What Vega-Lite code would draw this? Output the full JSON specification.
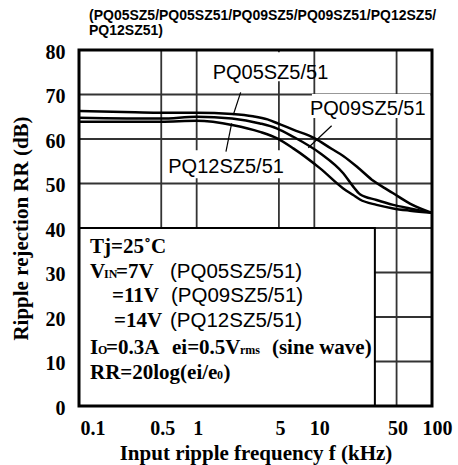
{
  "$schema": "https://vega.github.io/schema/vega-lite/v6.json",
  "width": 353,
  "height": 356,
  "autosize": "none",
  "padding": {"left": 79, "top": 50, "right": 26, "bottom": 59},
  "background": "white",
  "title": {
    "text": ["(PQ05SZ5/PQ05SZ51/PQ09SZ5/PQ09SZ51/PQ12SZ5/", "PQ12SZ51)"],
    "anchor": "start",
    "frame": "group",
    "dx": 10,
    "offset": 4,
    "font": "Liberation Sans",
    "fontSize": 14,
    "fontWeight": "bold",
    "lineHeight": 15,
    "color": "black"
  },
  "config": {
    "view": {"stroke": null},
    "axis": {
      "labelFont": "Liberation Serif",
      "labelFontWeight": "bold",
      "labelFontSize": 20,
      "labelColor": "black",
      "titleFont": "Liberation Serif",
      "titleFontWeight": "bold",
      "titleFontSize": 20,
      "titleColor": "black",
      "ticks": false,
      "domain": false,
      "grid": false,
      "labelOverlap": false
    }
  },
  "datasets": {
    "xGrid": [{"f": 0.5}, {"f": 1}, {"f": 5}, {"f": 10}, {"f": 50}],
    "yGrid": [{"db": 10}, {"db": 20}, {"db": 30}, {"db": 40}, {"db": 50}, {"db": 60}, {"db": 70}],
    "frame": [{"f": 0.1, "f2": 100, "db": 0, "db2": 80}],
    "labelBoxes": [
      {"f": 1.18, "f2": 9.0, "db": 73.0, "db2": 79.5},
      {"f": 9.54, "f2": 97, "db": 64.7, "db2": 70.1},
      {"f": 0.58, "f2": 6.2, "db": 51.2, "db2": 57.5}
    ],
    "condBox": [
      {"f": 0.1, "f2": 32.7, "db": 0, "db2": 40}
    ],
    "curves": [
      {"model": "PQ05SZ5/51", "f": 0.1, "db": 66.3},
      {"model": "PQ05SZ5/51", "f": 0.3, "db": 66.0},
      {"model": "PQ05SZ5/51", "f": 0.5, "db": 65.9},
      {"model": "PQ05SZ5/51", "f": 1, "db": 65.9},
      {"model": "PQ05SZ5/51", "f": 2, "db": 65.6},
      {"model": "PQ05SZ5/51", "f": 3, "db": 65.1},
      {"model": "PQ05SZ5/51", "f": 4, "db": 64.4},
      {"model": "PQ05SZ5/51", "f": 5, "db": 63.4},
      {"model": "PQ05SZ5/51", "f": 6.6, "db": 62.1},
      {"model": "PQ05SZ5/51", "f": 10, "db": 60.2},
      {"model": "PQ05SZ5/51", "f": 14, "db": 57.8},
      {"model": "PQ05SZ5/51", "f": 17.6, "db": 56.2},
      {"model": "PQ05SZ5/51", "f": 24.4, "db": 53.2},
      {"model": "PQ05SZ5/51", "f": 31.7, "db": 50.6},
      {"model": "PQ05SZ5/51", "f": 40, "db": 48.9},
      {"model": "PQ05SZ5/51", "f": 46.8, "db": 47.8},
      {"model": "PQ05SZ5/51", "f": 64.9, "db": 45.5},
      {"model": "PQ05SZ5/51", "f": 100, "db": 43.4},
      {"model": "PQ09SZ5/51", "f": 0.1, "db": 64.8},
      {"model": "PQ09SZ5/51", "f": 0.5, "db": 64.6},
      {"model": "PQ09SZ5/51", "f": 1, "db": 65.0},
      {"model": "PQ09SZ5/51", "f": 2, "db": 64.6},
      {"model": "PQ09SZ5/51", "f": 3.45, "db": 63.5},
      {"model": "PQ09SZ5/51", "f": 4.78, "db": 62.4},
      {"model": "PQ09SZ5/51", "f": 6.62, "db": 60.5},
      {"model": "PQ09SZ5/51", "f": 11.2, "db": 56.8},
      {"model": "PQ09SZ5/51", "f": 17.6, "db": 52.3},
      {"model": "PQ09SZ5/51", "f": 21.4, "db": 49.3},
      {"model": "PQ09SZ5/51", "f": 24.4, "db": 47.6},
      {"model": "PQ09SZ5/51", "f": 33.8, "db": 46.3},
      {"model": "PQ09SZ5/51", "f": 46.8, "db": 45.2},
      {"model": "PQ09SZ5/51", "f": 64.9, "db": 44.4},
      {"model": "PQ09SZ5/51", "f": 100, "db": 43.4},
      {"model": "PQ12SZ5/51", "f": 0.1, "db": 63.9},
      {"model": "PQ12SZ5/51", "f": 0.5, "db": 63.9},
      {"model": "PQ12SZ5/51", "f": 1, "db": 64.1},
      {"model": "PQ12SZ5/51", "f": 2.05, "db": 63.1},
      {"model": "PQ12SZ5/51", "f": 3.45, "db": 61.6},
      {"model": "PQ12SZ5/51", "f": 4.78, "db": 60.2},
      {"model": "PQ12SZ5/51", "f": 6.62, "db": 57.9},
      {"model": "PQ12SZ5/51", "f": 11.2, "db": 53.4},
      {"model": "PQ12SZ5/51", "f": 17.6, "db": 48.9},
      {"model": "PQ12SZ5/51", "f": 21.4, "db": 47.4},
      {"model": "PQ12SZ5/51", "f": 24.4, "db": 46.4},
      {"model": "PQ12SZ5/51", "f": 33.8, "db": 45.2},
      {"model": "PQ12SZ5/51", "f": 46.8, "db": 44.4},
      {"model": "PQ12SZ5/51", "f": 64.9, "db": 43.9},
      {"model": "PQ12SZ5/51", "f": 100, "db": 43.4}
    ],
    "leaders": [
      {"f": 2.365, "db": 70.49, "f2": 2.046, "db2": 65.39},
      {"f": 14.03, "db": 62.99, "f2": 8.88, "db2": 58.04},
      {"f": 1.983, "db": 63.53, "f2": 1.774, "db2": 57.15}
    ],
    "notes": [
      {"text": "PQ05SZ5/51", "f": 1.367, "db": 73.48, "style": "label"},
      {"text": "PQ09SZ5/51", "f": 9.176, "db": 65.39, "style": "label"},
      {"text": "PQ12SZ5/51", "f": 0.5738, "db": 52.29, "style": "label"},
      {"text": "Tj=25˚C", "f": 0.124, "db": 34.38, "style": "serif"},
      {"text": "V", "f": 0.124, "db": 28.83, "style": "serif"},
      {"text": "IN", "f": 0.1631, "db": 28.83, "style": "sub"},
      {"text": "=7V", "f": 0.2062, "db": 28.83, "style": "serif"},
      {"text": "(PQ05SZ5/51)", "f": 0.5931, "db": 28.83, "style": "sans"},
      {"text": "=11V", "f": 0.1907, "db": 23.44, "style": "serif"},
      {"text": "(PQ09SZ5/51)", "f": 0.6048, "db": 23.44, "style": "sans"},
      {"text": "=14V", "f": 0.1983, "db": 17.82, "style": "serif"},
      {"text": "(PQ12SZ5/51)", "f": 0.5931, "db": 17.82, "style": "sans"},
      {"text": "I", "f": 0.124, "db": 11.69, "style": "serif"},
      {"text": "O", "f": 0.14503, "db": 11.69, "style": "sub"},
      {"text": "=0.3A", "f": 0.1696, "db": 11.69, "style": "serif"},
      {"text": "ei=0.5V", "f": 0.6168, "db": 11.69, "style": "serif"},
      {"text": "rms", "f": 2.3327, "db": 11.69, "style": "sub"},
      {"text": "(sine wave)", "f": 4.3632, "db": 11.69, "style": "serif"},
      {"text": "RR=20log(ei/e", "f": 0.124, "db": 6.07, "style": "serif"},
      {"text": "0", "f": 1.4875, "db": 6.07, "style": "sub"},
      {"text": ")", "f": 1.6893, "db": 6.07, "style": "serif"}
    ]
  },
  "layer": [
    {
      "data": {"name": "xGrid"},
      "mark": {"type": "rule", "color": "#333333", "strokeWidth": 1.8},
      "encoding": {
        "x": {
          "field": "f", "type": "quantitative",
          "scale": {"type": "log", "domain": [0.1, 100], "nice": false},
          "title": "Input ripple frequency f (kHz)",
          "axis": {
            "values": [0.1, 0.5, 1, 5, 10, 50, 100],
            "format": "~g",
            "labelPadding": 12,
            "titlePadding": 4,
            "titleFontSize": 21,
            "labelAlign": {"condition": {"test": "datum.value <= 0.1", "value": "left"}, "value": "center"},
            "labelOffset": {"condition": {"test": "datum.value >= 99 || (datum.value >= 9 && datum.value <= 11)", "value": 5}, "value": 1}
          }
        }
      }
    },
    {
      "data": {"name": "yGrid"},
      "mark": {"type": "rule", "color": "#333333", "strokeWidth": 1.8},
      "encoding": {
        "y": {
          "field": "db", "type": "quantitative",
          "scale": {"domain": [0, 80], "nice": false, "zero": false},
          "title": "Ripple rejection RR (dB)",
          "axis": {
            "values": [0, 10, 20, 30, 40, 50, 60, 70, 80],
            "labelPadding": 14,
            "labelOffset": 2,
            "titlePadding": 14,
            "titleFontSize": 21
          }
        }
      }
    },
    {
      "data": {"name": "labelBoxes"},
      "mark": {"type": "rect", "fill": "white", "strokeWidth": 0},
      "encoding": {
        "x": {"field": "f", "type": "quantitative", "title": "Input ripple frequency f (kHz)"},
        "x2": {"field": "f2"},
        "y": {"field": "db", "type": "quantitative", "title": "Ripple rejection RR (dB)"},
        "y2": {"field": "db2"}
      }
    },
    {
      "data": {"name": "condBox"},
      "mark": {"type": "rect", "fill": "white", "stroke": "black", "strokeWidth": 2},
      "encoding": {
        "x": {"field": "f", "type": "quantitative", "title": "Input ripple frequency f (kHz)"},
        "x2": {"field": "f2"},
        "y": {"field": "db", "type": "quantitative", "title": "Ripple rejection RR (dB)"},
        "y2": {"field": "db2"}
      }
    },
    {
      "data": {"name": "curves"},
      "mark": {"type": "line", "color": "black", "strokeWidth": 2.5, "interpolate": "monotone"},
      "encoding": {
        "x": {"field": "f", "type": "quantitative", "title": "Input ripple frequency f (kHz)"},
        "y": {"field": "db", "type": "quantitative", "title": "Ripple rejection RR (dB)"},
        "detail": {"field": "model"}
      }
    },
    {
      "data": {"name": "leaders"},
      "mark": {"type": "rule", "color": "black", "strokeWidth": 1.2},
      "encoding": {
        "x": {"field": "f", "type": "quantitative", "title": "Input ripple frequency f (kHz)"},
        "x2": {"field": "f2"},
        "y": {"field": "db", "type": "quantitative", "title": "Ripple rejection RR (dB)"},
        "y2": {"field": "db2"}
      }
    },
    {
      "data": {"name": "notes"},
      "transform": [{"filter": "datum.style == 'label'"}],
      "mark": {"type": "text", "align": "left", "baseline": "alphabetic", "font": "Liberation Sans", "fontSize": 20, "color": "black"},
      "encoding": {
        "x": {"field": "f", "type": "quantitative", "title": "Input ripple frequency f (kHz)"},
        "y": {"field": "db", "type": "quantitative", "title": "Ripple rejection RR (dB)"},
        "text": {"field": "text"}
      }
    },
    {
      "data": {"name": "notes"},
      "transform": [{"filter": "datum.style == 'sans'"}],
      "mark": {"type": "text", "align": "left", "baseline": "alphabetic", "font": "Liberation Sans", "fontSize": 20.5, "color": "black"},
      "encoding": {
        "x": {"field": "f", "type": "quantitative", "title": "Input ripple frequency f (kHz)"},
        "y": {"field": "db", "type": "quantitative", "title": "Ripple rejection RR (dB)"},
        "text": {"field": "text"}
      }
    },
    {
      "data": {"name": "notes"},
      "transform": [{"filter": "datum.style == 'serif'"}],
      "mark": {"type": "text", "align": "left", "baseline": "alphabetic", "font": "Liberation Serif", "fontWeight": "bold", "fontSize": 21, "color": "black"},
      "encoding": {
        "x": {"field": "f", "type": "quantitative", "title": "Input ripple frequency f (kHz)"},
        "y": {"field": "db", "type": "quantitative", "title": "Ripple rejection RR (dB)"},
        "text": {"field": "text"}
      }
    },
    {
      "data": {"name": "notes"},
      "transform": [{"filter": "datum.style == 'sub'"}],
      "mark": {"type": "text", "align": "left", "baseline": "alphabetic", "font": "Liberation Serif", "fontWeight": "bold", "fontSize": 12, "color": "black"},
      "encoding": {
        "x": {"field": "f", "type": "quantitative", "title": "Input ripple frequency f (kHz)"},
        "y": {"field": "db", "type": "quantitative", "title": "Ripple rejection RR (dB)"},
        "text": {"field": "text"}
      }
    },
    {
      "data": {"name": "frame"},
      "mark": {"type": "rect", "filled": false, "stroke": "black", "strokeWidth": 3},
      "encoding": {
        "x": {"field": "f", "type": "quantitative", "title": "Input ripple frequency f (kHz)"},
        "x2": {"field": "f2"},
        "y": {"field": "db", "type": "quantitative", "title": "Ripple rejection RR (dB)"},
        "y2": {"field": "db2"}
      }
    }
  ]
}
